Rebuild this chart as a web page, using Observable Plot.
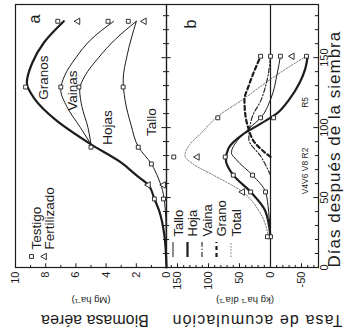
<!DOCTYPE html>
<html><head><meta charset="utf-8">
<script src="https://cdn.jsdelivr.net/npm/d3@7"></script>
<script src="https://cdn.jsdelivr.net/npm/@observablehq/plot@0.6"></script>
<style>
body{margin:0;background:#fff;}
#wrap{position:relative;width:349px;height:333px;overflow:hidden;background:#fff}
#rot{position:absolute;left:0;top:0;width:333px;height:349px;transform-origin:0 0;transform:translate(0,333px) rotate(-90deg);}
#rot svg{position:absolute;left:0;top:0;}
.t180{position:absolute;width:220px;text-align:center;white-space:nowrap;transform:rotate(180deg);color:#1c1c1c;font-family:'Liberation Sans',Arial,Helvetica,sans-serif;}
</style></head><body><div id="wrap"><div id="rot"></div></div>
<script>
// ---------- data ----------
const diasTicks = [0, 50, 100, 150];
const biomasaTicks = [0, 2, 4, 6, 8, 10];
const tasaTicks = [-50, 0, 50, 100, 150];

// Panel a: cumulative biomass (Mg/ha) vs days after sowing
const aGranos = [[0,0],[22,0.13],[41,0.5],[49,0.8],[59,1.2],[66,2.0],[75,3.0],[88,5.0],[106,7.4],[120,8.7],[132,9.25],[146,8.9],[161,8.1],[176,6.8]];
const aVainas = [[88,5.0],[100,5.7],[115,6.6],[127,7.0],[137,6.75],[150,6.0],[163,5.0],[176,3.5]];
const aHojas  = [[88,5.0],[100,5.2],[115,5.6],[127,5.75],[137,5.4],[150,4.5],[163,3.4],[176,2.0]];
const aTallo  = [[0,0],[30,0.03],[52,0.2],[64,0.55],[74,1.0],[86,1.85],[102,2.35],[120,2.75],[134,2.87],[152,2.6],[176,2.0]];
const aTestigo = [[49,0.8],[49,0.2],[74,1.0],[86,5.0],[86,1.87],[129,9.33],[129,7.0],[129,5.8],[129,2.87],[176,7.2],[176,3.87],[176,2.53]];
const aFertilizado = [[59,1.2],[59,0.2],[176,5.87],[176,1.47]];
const etiquetasA = ["Granos", "Vainas", "Hojas", "Tallo"];

// Panel b: accumulation rate (kg/ha/day) vs days after sowing
const bTallo = [[22,0],[40,3],[54,8],[66,29],[77,55],[82,63],[91,53],[100,33],[107,16],[120,0],[139,-11],[151,-16]];
const bHoja  = [[22,0],[40,8],[54,32],[66,60],[77,72],[85,68],[95,45],[103,15],[110,-10],[120,-30],[132,-47],[142,-56],[151,-60]];
const bVaina = [[66,0],[79,15],[92,35],[107,30],[120,15],[135,5],[151,0]];
const bGrano = [[79,0],[89,25],[100,36],[111,41],[120,42],[130,35],[151,16]];
const bTotal = [[22,3],[40,18],[54,45],[66,92],[74,125],[80,138],[88,130],[96,112],[108,85],[120,45],[132,8],[142,-25],[151,-58]];
const bTestigo = [[22,0],[22,5],[54,8],[54,32],[66,29],[66,60],[79,156],[79,73],[107,85],[107,16],[107,-5],[151,16],[151,0],[151,-16],[151,-58]];
const bFertilizado = [[79,118],[54,45],[151,-35]];
const leyendaB = ["Tallo", "Hoja", "Vaina", "Grano", "Total"];
const estadios = ["V4V6 V8 R2", "R5"];
const estadiosDia = [69, 118];
const titulosY = ["Biomasa aérea", "(Mg ha⁻¹)", "Tasa de acumulación", "(kg ha⁻¹ día⁻¹)"];

// ---------- layout / style ----------
const ink = "#1c1c1c";
const font = "'Liberation Sans', Arial, Helvetica, sans-serif";
const W = 333, H = 349, ML = 65, MR = 5;
const xDom = [0, 188];
const posA = [[135.7, 8.13], [126.4, 6.2], [100, 3.87], [104, 1.0]]; // label anchors for etiquetasA
const diasMenores = d3.range(0, 181, 10);
const X = d => d[0], Y = d => d[1];

const pa = Plot.plot({
  width: W, height: H, marginLeft: ML, marginRight: MR, marginTop: 15, marginBottom: 183,
  x: {domain: xDom, axis: null}, y: {domain: [0, 10], axis: null},
  style: {background: "#fff", fontFamily: font, color: ink, overflow: "visible"},
  marks: [
    Plot.ruleY(d3.range(0, 10.01, 1), {x1: 0, x2: d => d % 2 === 0 ? 3.4 : 2.2, stroke: ink}),
    Plot.ruleX(diasMenores, {y1: 0, y2: d => d % 50 === 0 ? 0.3 : 0.2, stroke: ink}),
    Plot.line(aTallo, {x: X, y: Y, curve: "monotone-x", stroke: ink, strokeWidth: 1}),
    Plot.line(aHojas, {x: X, y: Y, curve: "monotone-x", stroke: ink, strokeWidth: 1}),
    Plot.line(aVainas, {x: X, y: Y, curve: "monotone-x", stroke: ink, strokeWidth: 1}),
    Plot.line(aGranos, {x: X, y: Y, curve: "monotone-x", stroke: ink, strokeWidth: 2.2}),
    Plot.dot(aTestigo, {x: X, y: Y, symbol: "square", r: 2.2, fill: "white", stroke: ink, strokeWidth: 0.9}),
    Plot.dot(aFertilizado, {x: X, y: Y, symbol: "triangle", r: 2.4, fill: "white", stroke: ink, strokeWidth: 0.9}),
    Plot.frame({stroke: ink, strokeWidth: 1.2}),
    Plot.text(biomasaTicks, {y: d => d, frameAnchor: "left", dx: -4, textAnchor: "end", fontSize: 11, fill: ink}),
    Plot.text(["a"], {frameAnchor: "top-right", dx: -10, dy: 13, fontSize: 16, fill: ink}),
    Plot.text(etiquetasA, {x: (d, i) => posA[i][0], y: (d, i) => posA[i][1], fontSize: 13.5, fill: ink}),
    Plot.dot(["Testigo"], {frameAnchor: "top-left", dx: 11, dy: 16, symbol: "square", r: 2.2, fill: "white", stroke: ink, strokeWidth: 0.9}),
    Plot.dot(["Fertilizado"], {frameAnchor: "top-left", dx: 11, dy: 29, symbol: "triangle", r: 2.4, fill: "white", stroke: ink, strokeWidth: 0.9}),
    Plot.text(["Testigo"], {frameAnchor: "top-left", dx: 18, dy: 16, textAnchor: "start", fontSize: 13.5, fill: ink}),
    Plot.text(["Fertilizado"], {frameAnchor: "top-left", dx: 18, dy: 29, textAnchor: "start", fontSize: 13.5, fill: ink})
  ]
});

const bTop = 167.7, bBot = -77.4;
const pb = Plot.plot({
  width: W, height: H, marginLeft: ML, marginRight: MR, marginTop: 166, marginBottom: 31,
  x: {domain: xDom, axis: null}, y: {domain: [bBot, bTop], axis: null},
  style: {background: "transparent", fontFamily: font, color: ink, overflow: "visible"},
  marks: [
    Plot.ruleY(d3.range(-70, 161, 10), {x1: 0, x2: d => d % 50 === 0 ? 3.4 : 2.2, stroke: ink}),
    Plot.ruleX(diasMenores, {y1: bBot, y2: d => bBot + (d % 50 === 0 ? 7.5 : 5), stroke: ink}),
    Plot.ruleX(diasMenores, {y1: bTop, y2: d => bTop - (d % 50 === 0 ? 7.5 : 5), stroke: ink}),
    Plot.ruleY([0], {stroke: ink, strokeWidth: 1.2}),
    Plot.line(bTotal, {x: X, y: Y, curve: "monotone-x", stroke: "#777", strokeWidth: 1, strokeDasharray: "1.5,1.6"}),
    Plot.line(bVaina, {x: X, y: Y, curve: "monotone-x", stroke: ink, strokeWidth: 1.1, strokeDasharray: "5,2,1.2,2"}),
    Plot.line(bGrano, {x: X, y: Y, curve: "monotone-x", stroke: ink, strokeWidth: 2.2, strokeDasharray: "4,3"}),
    Plot.line(bTallo, {x: X, y: Y, curve: "monotone-x", stroke: ink, strokeWidth: 1}),
    Plot.line(bHoja, {x: X, y: Y, curve: "monotone-x", stroke: ink, strokeWidth: 2.2}),
    Plot.dot(bTestigo, {x: X, y: Y, symbol: "square", r: 2.2, fill: "white", stroke: ink, strokeWidth: 0.9}),
    Plot.dot(bFertilizado, {x: X, y: Y, symbol: "triangle", r: 2.4, fill: "white", stroke: ink, strokeWidth: 0.9}),
    Plot.frame({stroke: ink, strokeWidth: 1.2}),
    Plot.text(tasaTicks, {y: d => d, frameAnchor: "left", dx: -4, textAnchor: "end", fontSize: 11, fill: ink}),
    Plot.text(diasTicks, {x: d => d, frameAnchor: "bottom", dy: 9, fontSize: 11, fill: ink}),
    Plot.text(["Días después de la siembra"], {frameAnchor: "bottom-left", dy: 21, textAnchor: "start", fontSize: 17, fill: ink}),
    Plot.text(["b"], {frameAnchor: "top-right", dx: -15, dy: 18, fontSize: 16, fill: ink}),
    Plot.text(estadios, {x: (d, i) => estadiosDia[i], y: -56.5, fontSize: 8.5, fill: ink}),
    ...leyendaB.map((name, i) => Plot.text([name], {frameAnchor: "top-left", dx: 31, dy: 7 + i * 14.5, textAnchor: "start", fontSize: 13, fill: ink}))
  ]
});

// legend line samples for panel b
const sampleStyle = [
  {w: 1, c: ink, d: null},
  {w: 2.2, c: ink, d: null},
  {w: 1.1, c: ink, d: "5,2,1.2,2"},
  {w: 2.2, c: ink, d: "4,3"},
  {w: 1, c: "#777", d: "1.5,1.6"}
];
const g = d3.select(pb).append("g");
leyendaB.forEach((name, i) => {
  g.append("line").attr("x1", ML + 11).attr("x2", ML + 26)
    .attr("y1", 166 + 7 + i * 14.5).attr("y2", 166 + 7 + i * 14.5)
    .attr("stroke", sampleStyle[i].c).attr("stroke-width", sampleStyle[i].w)
    .attr("stroke-dasharray", sampleStyle[i].d);
});
d3.select(pb).selectAll("text").filter(function() { return this.textContent.startsWith("Días"); }).attr("letter-spacing", 1);

const rot = document.getElementById("rot");
rot.appendChild(pa);
rot.appendChild(pb);

// upside-down value-axis titles (the figure is turned a quarter turn)
const wrap = document.getElementById("wrap");
const titleLayout = [
  {cx: 95, cy: 320, size: 16, ls: 0},
  {cx: 91, cy: 300, size: 9.5, ls: 0},
  {cx: 257, cy: 320, size: 16, ls: 1.1},
  {cx: 245, cy: 300, size: 9.5, ls: 0}
];
titulosY.forEach((t, i) => {
  const L = titleLayout[i];
  const d = document.createElement("div");
  d.className = "t180";
  d.textContent = t;
  d.style.left = (L.cx - 110) + "px";
  d.style.top = (L.cy - L.size / 2) + "px";
  d.style.height = L.size + "px";
  d.style.lineHeight = L.size + "px";
  d.style.fontSize = L.size + "px";
  d.style.letterSpacing = L.ls + "px";
  wrap.appendChild(d);
});
</script>
</body></html>
